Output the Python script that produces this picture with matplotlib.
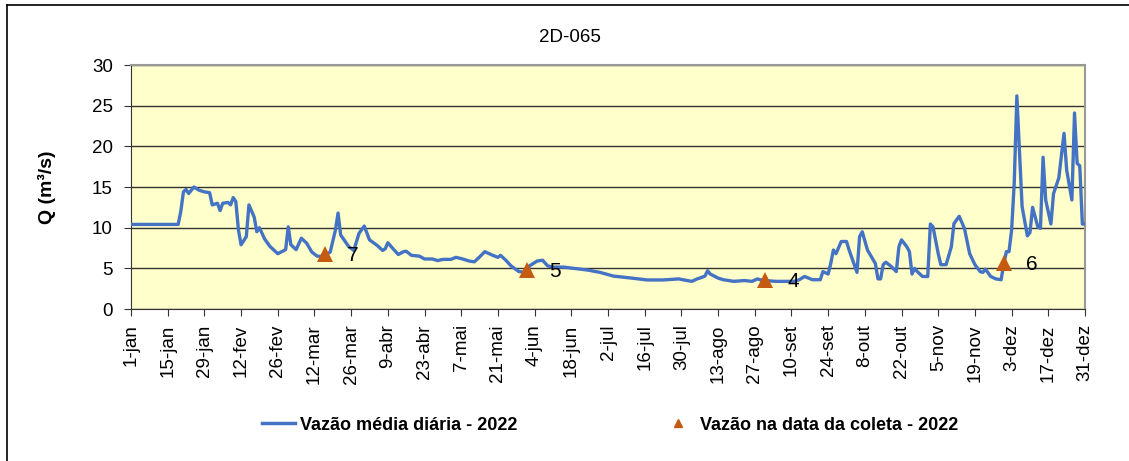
import matplotlib
matplotlib.use("Agg")
import matplotlib.pyplot as plt
from matplotlib.lines import Line2D

plt.rcParams["font.family"] = ["Liberation Sans", "DejaVu Sans"]

# daily mean flow (day of year, m3/s)
flow_days = [0, 18, 19, 20, 21, 22, 24, 26, 28, 30, 31, 33, 34, 35, 37, 38, 39, 40, 41, 42,
             44, 45, 47, 48, 49, 51, 53, 56, 59, 60, 61, 63, 65, 67, 69, 71, 73, 74, 76, 78,
             79, 80, 83, 85, 87, 89, 91, 94, 96, 97, 98, 100, 102, 104, 105, 107, 110, 112, 115, 117,
             119, 122, 124, 126, 129, 131, 133, 135, 138, 140, 141, 143, 145, 148, 151, 152, 155, 157, 159, 161,
             165, 169, 174, 179, 184, 191, 197, 203, 209, 211, 214, 216, 217, 219, 220, 221, 224, 226, 230, 234,
             237, 239, 240, 242, 246, 253, 255, 257, 260, 263, 264, 266, 267, 268, 269, 271, 273, 274, 277, 278,
             279, 281, 284, 285, 286, 287, 288, 290, 292, 293, 294, 296, 297, 298, 299, 300, 302, 304, 305, 306,
             308, 309, 311, 313, 314, 316, 318, 320, 322, 324, 325, 326, 328, 330, 332, 333, 334, 335, 336, 337,
             338, 339, 340, 342, 343, 344, 346, 347, 348, 349, 351, 352, 354, 356, 357, 359, 360, 361, 362, 363,
             364]
flow_vals = [10.4, 10.4, 12.0, 14.4, 14.7, 14.2, 15.0, 14.6, 14.4, 14.3, 12.8, 13.0, 12.1, 13.0, 13.1, 12.8, 13.7, 13.2, 9.7, 7.9,
             8.9, 12.8, 11.3, 9.5, 10.0, 8.6, 7.7, 6.8, 7.3, 10.1, 7.9, 7.3, 8.7, 8.1, 7.0, 6.5, 6.45, 6.6, 7.0, 9.7,
             11.8, 9.1, 7.7, 7.2, 9.3, 10.2, 8.5, 7.8, 7.2, 7.4, 8.15, 7.4, 6.7, 7.05, 7.1, 6.6, 6.5, 6.15, 6.15, 5.95,
             6.1, 6.1, 6.35, 6.2, 5.9, 5.8, 6.4, 7.05, 6.6, 6.35, 6.6, 6.0, 5.3, 4.6, 4.5, 5.3, 5.9, 6.0, 5.3, 5.15,
             5.15, 5.0, 4.8, 4.5, 4.05, 3.8, 3.57, 3.57, 3.7, 3.57, 3.4, 3.7, 3.8, 4.05, 4.7, 4.3, 3.8, 3.6, 3.4, 3.5,
             3.4, 3.7, 3.6, 3.5, 3.4, 3.4, 3.6, 4.0, 3.6, 3.6, 4.6, 4.3, 5.6, 7.25, 6.8, 8.3, 8.3, 7.25, 4.5, 8.9,
             9.5, 7.25, 5.6, 3.7, 3.7, 5.45, 5.75, 5.25, 4.6, 7.66, 8.5, 7.66, 7.05, 4.3, 5.0, 4.6, 4.0, 4.0, 10.45, 10.1,
             6.8, 5.45, 5.45, 7.66, 10.5, 11.4, 9.9, 6.8, 5.45, 4.6, 4.5, 4.9, 4.0, 3.7, 3.6, 5.5, 7.05, 7.05, 9.7, 15.5,
             26.2, 19.5, 12.6, 9.0, 9.4, 12.5, 10.1, 9.9, 18.65, 13.4, 10.45, 14.2, 16.1, 21.6, 17.1, 13.4, 24.1, 17.9, 17.6, 10.45,
             10.45]

# flow on sampling dates
sample_days = [74, 151, 242, 333]
sample_vals = [6.8, 4.8, 3.6, 5.6]
sample_labels = ["7", "5", "4", "6"]

tick_days = list(range(0, 365, 14))
tick_labels = ["1-jan", "15-jan", "29-jan", "12-fev", "26-fev", "12-mar", "26-mar", "9-abr", "23-abr",
               "7-mai", "21-mai", "4-jun", "18-jun", "2-jul", "16-jul", "30-jul", "13-ago", "27-ago",
               "10-set", "24-set", "8-out", "22-out", "5-nov", "19-nov", "3-dez", "17-dez", "31-dez"]

W, H = 1129, 461
fig = plt.figure(figsize=(W / 100, H / 100), dpi=100)
ax = fig.add_axes([131 / W, 1 - 309 / H, 954 / W, 244 / H])
ax.set_facecolor("#FFFFCC")

ax.plot(flow_days, flow_vals, color="#4472C4", lw=2.4, zorder=3)
ax.plot(sample_days, sample_vals, "^", color="#C55A11", ms=11, mew=0, zorder=4)
for d, v, lab in zip(sample_days, sample_vals, sample_labels):
    ax.annotate(lab, (d, v), xytext=(20, -1), textcoords="offset points",
                ha="center", va="center", fontsize=15)

ax.set_xlim(0, 364)
ax.set_ylim(0, 30)
ax.set_yticks(range(0, 31, 5))
ax.yaxis.grid(True, color="#333333", lw=1)
ax.set_axisbelow(True)
ax.set_xticks(tick_days)
ax.set_xticklabels(tick_labels, rotation=90)
ax.tick_params(axis="both", labelsize=13.5, direction="out", length=5, color="#333333")
ax.tick_params(axis="x", pad=6)
ax.tick_params(axis="y", pad=8)

for s in ["top", "right"]:
    ax.spines[s].set_color("#999999")
    ax.spines[s].set_linewidth(1.5)
for s in ["left", "bottom"]:
    ax.spines[s].set_color("#333333")

ax.set_ylabel("Q (m³/s)", fontsize=14, fontweight="bold", labelpad=26)

fig.text(570 / W, 1 - 37 / H, "2D-065", ha="center", va="center", fontsize=13.5)

handles = [Line2D([], [], color="#4472C4", lw=2.5),
           Line2D([], [], ls="none", marker="^", color="#C55A11", ms=6)]
fig.legend(handles, ["Vazão média diária - 2022", "Vazão na data da coleta - 2022"],
           ncol=2, loc="center", bbox_to_anchor=(610 / W, 1 - 425 / H),
           frameon=False, columnspacing=8, handlelength=1.8, handletextpad=0.3,
           prop={"weight": "bold", "size": 13})

# outer chart border
fig.add_artist(Line2D([7 / W, 7 / W], [0, 1 - 5 / H], color="black", lw=1.2))
fig.add_artist(Line2D([7 / W, 1], [1 - 5 / H, 1 - 5 / H], color="black", lw=1.2))

fig.savefig("out.png", dpi=100)
